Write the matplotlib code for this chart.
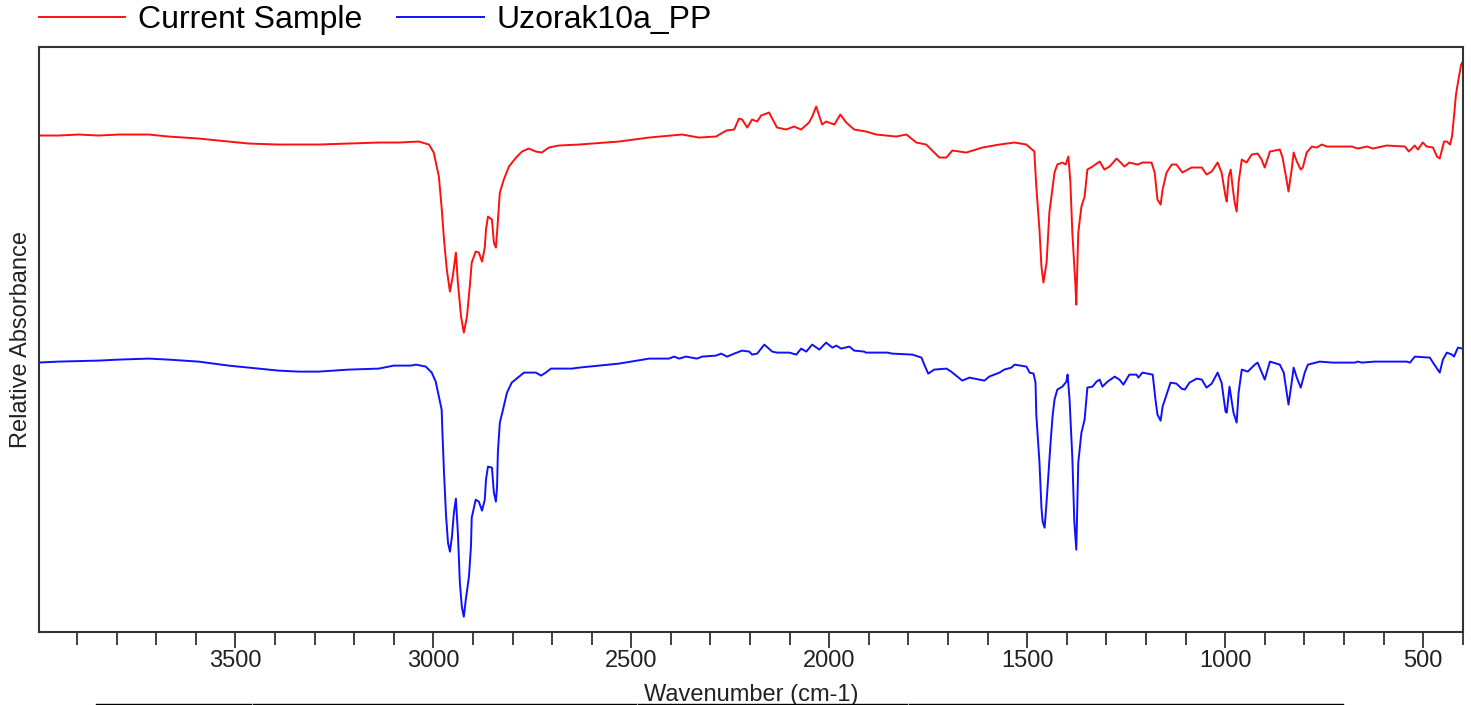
"""FTIR overlay: current sample vs library reference (Uzorak10a_PP)."""
import matplotlib
matplotlib.use('Agg')
import matplotlib.pyplot as plt
from matplotlib.lines import Line2D
from matplotlib.ticker import FixedLocator, NullLocator

plt.rcParams['font.family'] = ['Liberation Sans', 'DejaVu Sans']

# Spectra (wavenumber in cm-1, relative absorbance in arbitrary units)
red_wn = [4000, 3947, 3896, 3846, 3795, 3719, 3669, 3593, 3517, 3467, 3391, 3340, 3290, 3214,
          3138, 3087, 3037, 3011, 2999, 2986, 2979, 2973, 2966, 2958, 2951, 2943, 2938, 2930,
          2923, 2915, 2908, 2903, 2893, 2885, 2877, 2870, 2867, 2862, 2852, 2847, 2842, 2839,
          2832, 2822, 2809, 2791, 2776, 2759, 2741, 2726, 2708, 2683, 2632, 2531, 2455, 2372,
          2329, 2286, 2260, 2240, 2228, 2220, 2207, 2195, 2182, 2172, 2152, 2132, 2109, 2089,
          2071, 2051, 2043, 2033, 2028, 2018, 2008, 1987, 1972, 1957, 1937, 1907, 1881, 1831,
          1805, 1780, 1755, 1722, 1704, 1689, 1654, 1613, 1570, 1532, 1502, 1482, 1477, 1469,
          1464, 1459, 1451, 1444, 1436, 1431, 1424, 1411, 1403, 1396, 1391, 1386, 1378, 1376,
          1371, 1363, 1355, 1348, 1335, 1317, 1305, 1292, 1274, 1254, 1242, 1221, 1209, 1186,
          1178, 1171, 1163, 1158, 1148, 1135, 1123, 1108, 1085, 1059, 1047, 1034, 1019, 1009,
          999, 996, 991, 986, 981, 976, 971, 966, 958, 946, 933, 918, 908, 900, 887, 862, 855,
          845, 840, 832, 827, 819, 809, 804, 794, 781, 769, 756, 743, 680, 665, 642, 627, 592,
          546, 536, 521, 513, 501, 491, 475, 465, 458, 447, 440, 432, 427, 422, 417, 412, 404,
          401]
red_abs = [496, 496, 497, 496, 497, 497, 495, 493, 490, 488, 487, 487, 487, 488,
           489, 489, 490, 487, 479, 455, 424, 392, 362, 340, 355, 379, 349, 315,
           299, 315, 345, 369, 380, 379, 370, 384, 402, 415, 412, 389, 384, 399,
           439, 452, 465, 474, 480, 483, 480, 479, 484, 486, 487, 490, 494, 497,
           494, 495, 501, 502, 513, 512, 504, 512, 510, 516, 519, 504, 502, 505,
           502, 509, 515, 525, 519, 507, 510, 507, 517, 509, 502, 500, 497, 495,
           497, 489, 487, 474, 474, 481, 479, 484, 487, 489, 487, 480, 445, 402,
           365, 349, 369, 419, 444, 459, 467, 469, 467, 475, 450, 399, 345, 327,
           399, 425, 435, 462, 465, 470, 462, 465, 473, 465, 469, 467, 469, 469,
           459, 432, 427, 442, 459, 467, 467, 459, 464, 464, 457, 460, 469, 459,
           435, 430, 455, 462, 444, 429, 420, 449, 472, 469, 477, 478, 472, 464, 480, 482, 474,
           452, 440, 462, 479, 470, 462, 464, 479, 485, 484, 487, 485, 485, 483, 485, 483, 486,
           485, 480, 486, 482, 489, 485, 484, 475, 473, 490, 490, 487, 495, 515, 537, 549, 567,
           569]

blue_wn = [4000, 3947, 3846, 3795, 3719, 3669, 3593, 3517, 3467, 3391, 3340, 3290, 3214, 3138,
           3100, 3057, 3044, 3019, 3004, 2994, 2986, 2979, 2977, 2973, 2968, 2963, 2958, 2953,
           2948, 2943, 2938, 2933, 2928, 2923, 2918, 2910, 2905, 2903, 2893, 2885, 2877, 2870,
           2867, 2862, 2852, 2847, 2842, 2839, 2837, 2832, 2824, 2814, 2802, 2771, 2741, 2728,
           2716, 2703, 2650, 2632, 2531, 2455, 2405, 2392, 2379, 2362, 2334, 2321, 2286, 2273,
           2258, 2240, 2220, 2202, 2195, 2182, 2164, 2144, 2132, 2101, 2083, 2071, 2058, 2043,
           2025, 2008, 1992, 1982, 1970, 1949, 1937, 1912, 1907, 1853, 1841, 1790, 1767, 1760,
           1750, 1735, 1704, 1692, 1664, 1646, 1633, 1608, 1596, 1570, 1558, 1540, 1532, 1502,
           1494, 1484, 1479, 1477, 1469, 1464, 1461, 1456, 1451, 1446, 1441, 1436, 1431, 1424,
           1411, 1401, 1398, 1393, 1386, 1381, 1376, 1371, 1363, 1355, 1348, 1335, 1325, 1317,
           1310, 1297, 1279, 1267, 1257, 1242, 1224, 1219, 1209, 1183, 1176, 1171, 1163, 1158,
           1148, 1138, 1123, 1110, 1102, 1090, 1072, 1059, 1047, 1034, 1019, 1009, 999, 996,
           989, 984, 979, 971, 966, 958, 943, 925, 918, 900, 887, 862, 852, 840, 832, 827, 819,
           809, 799, 791, 761, 728, 673, 665, 655, 622, 541, 533, 521, 483, 475, 465, 458, 450,
           440, 427, 422, 412, 401]
blue_abs = [269, 270, 271, 272, 273, 272, 270, 266, 264, 261, 260, 260, 262, 263,
            266, 266, 267, 265, 259, 250, 235, 222, 199, 159, 117, 89, 80, 95,
            119, 133, 99, 49, 25, 15, 32, 55, 85, 114, 132, 130, 121, 132,
            152, 165, 164, 139, 130, 145, 179, 209, 222, 239, 249, 259, 259, 256,
            259, 263, 263, 264, 268, 273, 273, 275, 273, 275, 273, 275, 276, 278,
            275, 278, 281, 280, 277, 278, 287, 280, 279, 279, 277, 283, 280, 287,
            282, 289, 284, 286, 283, 285, 281, 280, 279, 279, 278, 277, 274, 267,
            258, 262, 263, 260, 251, 254, 253, 251, 255, 259, 262, 264, 267, 265,
            259, 258, 249, 217, 169, 124, 110, 104, 130, 159, 189, 215, 232, 242,
            245, 250, 257, 232, 174, 110, 82, 169, 199, 212, 244, 245, 250, 252,
            245, 250, 255, 252, 247, 257, 257, 254, 259, 257, 232, 217, 211, 225,
            237, 249, 248, 243, 242, 249, 253, 252, 244, 248, 259, 249, 220, 219,
            245, 232, 219, 209, 239, 262, 260, 267, 269, 252, 270, 267, 259, 227, 249, 264, 254,
            244, 259, 267, 270, 269, 269, 270, 269, 270, 270, 269, 275, 274, 269, 263, 259, 272,
            279, 277, 275, 284, 283]

major_ticks = [3500, 3000, 2500, 2000, 1500, 1000, 500]
minor_ticks = [t for t in range(400, 4000, 100) if t % 500 != 0]

W, H = 1471, 705
fig = plt.figure(figsize=(W / 100, H / 100), dpi=100)
ax = fig.add_axes([39 / W, 1 - 631.7 / H, (1462.7 - 39) / W, (631.7 - 46.5) / H])

ax.plot(red_wn, red_abs, color='#ff1010', lw=1.4, label='Current Sample')
ax.plot(blue_wn, blue_abs, color='#1010ff', lw=1.4, label='Uzorak10a_PP')

ax.set_xlim(3996, 400)
ax.set_ylim(0, 585)
ax.xaxis.set_major_locator(FixedLocator(major_ticks))
ax.xaxis.set_minor_locator(FixedLocator(minor_ticks))
ax.yaxis.set_major_locator(NullLocator())
ax.tick_params(axis='x', which='major', direction='out', length=11.5, width=1.3,
               color='#333333', labelsize=17, pad=2, labelcolor='#222222')
ax.tick_params(axis='x', which='minor', direction='out', length=9, width=1.3, color='#333333')
for s in ax.spines.values():
    s.set_color('#333333')
    s.set_linewidth(1.5)

ax.set_xlabel('Wavenumber (cm-1)', fontsize=17, labelpad=8, color='#222222')
ax.set_ylabel('Relative Absorbance', fontsize=17, labelpad=5, color='#222222')

fig.legend(loc='center left', bbox_to_anchor=(39 / W, 1 - 20 / H), ncol=2, frameon=False,
           fontsize=23, handlelength=2.7, handletextpad=0.4, columnspacing=1.1,
           borderpad=0, borderaxespad=0)

# thin black rules along the bottom edge of the original screenshot
for x0, x1 in [(96, 251), (253, 636), (638, 907), (909, 1343)]:
    fig.add_artist(Line2D([x0 / W, x1 / W], [0.7 / H, 0.7 / H], color='black', lw=1))

fig.savefig('out.png', dpi=100)
